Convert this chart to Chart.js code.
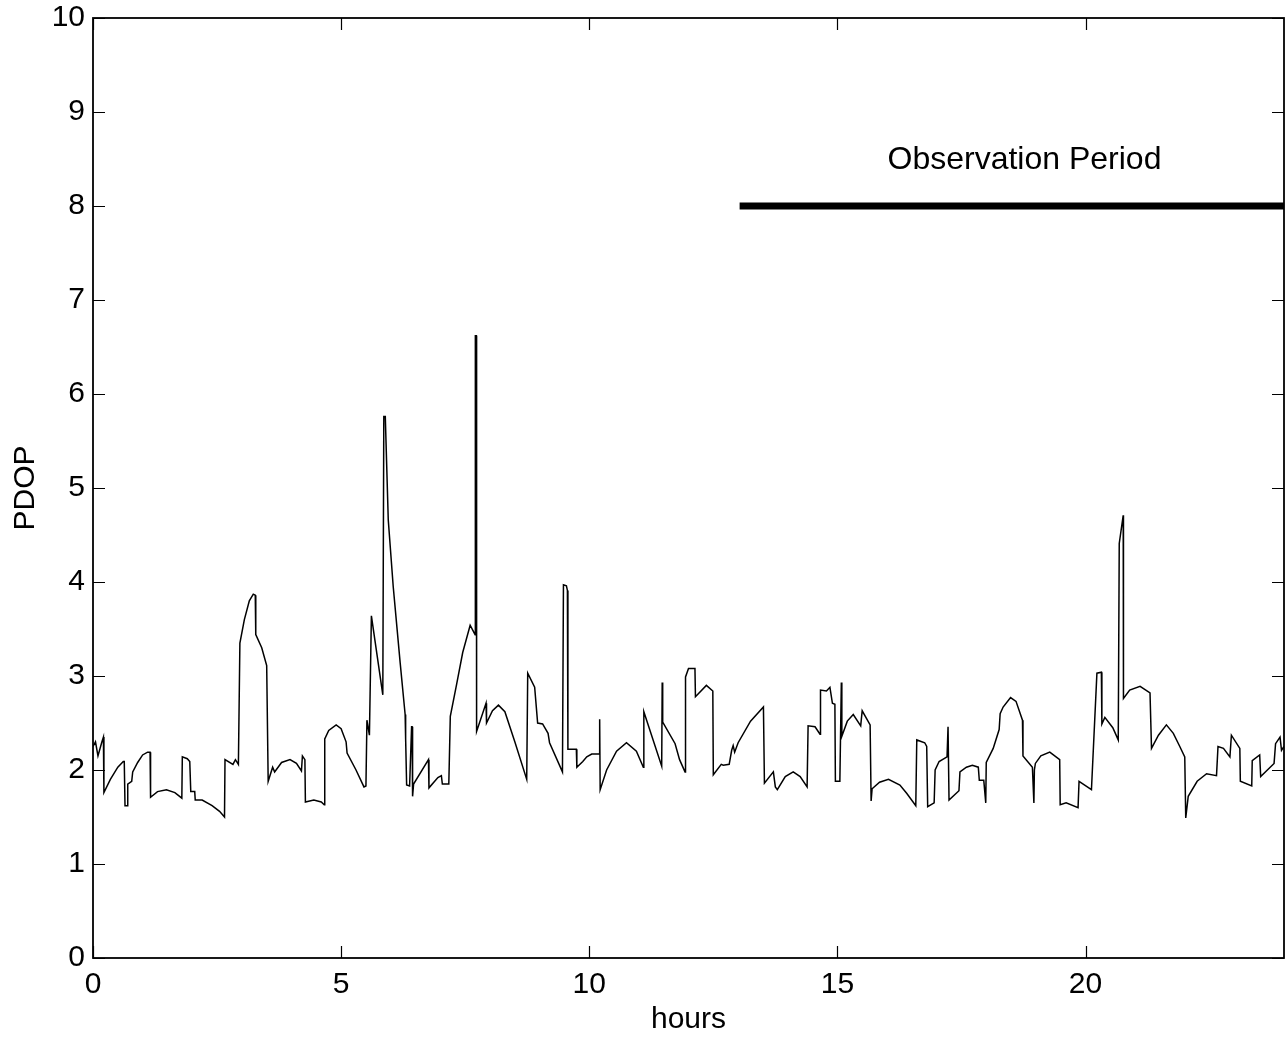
<!DOCTYPE html>
<html>
<head>
<meta charset="utf-8">
<script src="https://cdn.jsdelivr.net/npm/chart.js@4"></script>
<style>
  html, body { margin: 0; padding: 0; background: #fff; }
  #wrap { width: 1288px; height: 1040px; }
</style>
</head>
<body>
<div id="wrap"><canvas id="chart" width="1288" height="1040"></canvas></div>
<script>
// PDOP over one day (hours)
const hours = [
  0.00, 0.05, 0.10, 0.18, 0.21, 0.22, 0.35, 0.50, 0.61, 0.63, 0.645, 0.69, 0.70, 0.78, 0.80, 0.90, 1.00, 1.10, 1.15, 1.16,
  1.30, 1.48, 1.65, 1.79, 1.80, 1.90, 1.95, 1.97, 2.05, 2.06, 2.20, 2.40, 2.55, 2.65, 2.66, 2.82, 2.87, 2.93, 2.96, 3.05,
  3.15, 3.23, 3.27, 3.28, 3.40, 3.50, 3.53, 3.62, 3.66, 3.80, 3.97, 4.10, 4.20, 4.22, 4.27, 4.28, 4.45, 4.60, 4.66, 4.67,
  4.75, 4.90, 5.00, 5.10, 5.12, 5.30, 5.46, 5.50, 5.52, 5.57, 5.61, 5.84, 5.86, 5.89, 5.95, 6.05, 6.19, 6.29, 6.30, 6.32,
  6.38, 6.42, 6.43, 6.44, 6.46, 6.76, 6.77, 6.95, 7.02, 7.04, 7.17, 7.20, 7.33, 7.45, 7.60, 7.70, 7.705, 7.725, 7.73, 7.92,
  7.93, 8.05, 8.17, 8.30, 8.50, 8.74, 8.76, 8.90, 8.96, 9.06, 9.17, 9.20, 9.46, 9.48, 9.54, 9.56, 9.57, 9.74, 9.75, 9.87,
  9.95, 10.05, 10.20, 10.21, 10.22, 10.35, 10.55, 10.75, 10.95, 11.09, 11.10, 11.46, 11.47, 11.48, 11.73, 11.82, 11.93, 11.94, 12.00, 12.13, 12.14,
  12.36, 12.49, 12.50, 12.66, 12.70, 12.82, 12.87, 12.90, 12.93, 13.00, 13.25, 13.51, 13.53, 13.71, 13.75, 13.79, 13.95, 14.11, 14.25, 14.39,
  14.41, 14.55, 14.65, 14.66, 14.78, 14.85, 14.90, 14.95, 14.96, 15.05, 15.08, 15.09, 15.20, 15.32, 15.47, 15.50, 15.66, 15.68, 15.70, 15.85,
  16.03, 16.26, 16.40, 16.58, 16.60, 16.76, 16.80, 16.82, 16.95, 16.97, 17.05, 17.21, 17.22, 17.23, 17.25, 17.45, 17.47, 17.60, 17.72, 17.84,
  17.86, 17.95, 17.99, 18.00, 18.14, 18.26, 18.28, 18.34, 18.49, 18.60, 18.73, 18.74, 18.93, 18.96, 18.97, 18.99, 19.10, 19.28, 19.48, 19.49,
  19.61, 19.85, 19.87, 20.12, 20.23, 20.32, 20.33, 20.39, 20.55, 20.66, 20.68, 20.76, 20.765, 20.89, 21.10, 21.30, 21.33, 21.47, 21.63, 21.77,
  21.90, 22.00, 22.02, 22.07, 22.25, 22.44, 22.64, 22.67, 22.78, 22.91, 22.94, 23.11, 23.12, 23.35, 23.36, 23.51, 23.53, 23.80, 23.83, 23.92,
  23.95, 24.00
];
const pdop = [
  2.25, 2.30, 2.15, 2.30, 2.35, 1.76, 1.90, 2.03, 2.09, 2.09, 1.62, 1.62, 1.85, 1.88, 1.98, 2.08, 2.16, 2.19, 2.19, 1.71,
  1.77, 1.79, 1.76, 1.70, 2.14, 2.12, 2.09, 1.77, 1.77, 1.68, 1.68, 1.62, 1.56, 1.50, 2.11, 2.06, 2.11, 2.06, 3.35, 3.60,
  3.80, 3.87, 3.86, 3.44, 3.30, 3.11, 1.88, 2.03, 1.98, 2.08, 2.11, 2.07, 1.99, 2.15, 2.11, 1.66, 1.68, 1.66, 1.63, 2.33,
  2.42, 2.48, 2.44, 2.30, 2.18, 2.00, 1.82, 1.83, 2.53, 2.37, 3.64, 2.80, 5.76, 5.76, 4.66, 3.95, 3.14, 2.59, 2.33, 1.84,
  1.83, 2.46, 2.46, 1.72, 1.85, 2.11, 1.81, 1.92, 1.94, 1.85, 1.85, 2.57, 2.92, 3.25, 3.54, 3.44, 6.62, 6.62, 2.41, 2.71,
  2.50, 2.63, 2.69, 2.62, 2.30, 1.90, 3.03, 2.88, 2.50, 2.49, 2.39, 2.29, 1.98, 3.97, 3.96, 3.91, 2.22, 2.22, 2.03, 2.09,
  2.14, 2.17, 2.17, 2.54, 1.79, 2.00, 2.20, 2.29, 2.20, 2.03, 2.62, 2.04, 2.93, 2.51, 2.28, 2.11, 1.98, 2.99, 3.08, 3.08, 2.78,
  2.90, 2.84, 1.95, 2.06, 2.05, 2.06, 2.21, 2.26, 2.19, 2.29, 2.52, 2.67, 1.86, 1.98, 1.82, 1.79, 1.93, 1.98, 1.93, 1.82,
  2.47, 2.46, 2.38, 2.85, 2.84, 2.88, 2.71, 2.70, 1.88, 1.88, 2.93, 2.36, 2.52, 2.59, 2.47, 2.63, 2.48, 1.67, 1.80, 1.87,
  1.90, 1.84, 1.75, 1.62, 2.32, 2.29, 2.25, 1.61, 1.65, 2.00, 2.09, 2.14, 2.14, 2.46, 1.68, 1.78, 1.98, 2.03, 2.05, 2.03,
  1.89, 1.89, 1.65, 2.08, 2.23, 2.43, 2.60, 2.67, 2.77, 2.73, 2.53, 2.15, 2.03, 1.65, 2.00, 2.07, 2.15, 2.19, 2.11, 1.63,
  1.65, 1.60, 1.88, 1.79, 3.03, 3.04, 2.49, 2.56, 2.45, 2.32, 4.41, 4.71, 2.76, 2.85, 2.89, 2.82, 2.23, 2.37, 2.48, 2.39,
  2.25, 2.14, 1.49, 1.72, 1.88, 1.96, 1.94, 2.25, 2.23, 2.14, 2.37, 2.23, 1.88, 1.83, 2.10, 2.16, 1.93, 2.07, 2.28, 2.35,
  2.21, 2.25
];

// observation period bar
const obsStart = 13.03;
const obsEnd = 24;
const obsLevel = 8;
const obsLabel = "Observation Period";

const xTickValues = [0, 5, 10, 15, 20];
const yTickValues = [0, 1, 2, 3, 4, 5, 6, 7, 8, 9, 10];

const FONT = "'Liberation Sans', Arial, Helvetica, sans-serif";
const TICK_LEN = 12;

// box + inward ticks on all four sides, plus the bar label
const boxPlugin = {
  id: "box",
  afterDraw(chart) {
    const { ctx, chartArea: a, scales } = chart;
    ctx.save();
    ctx.strokeStyle = "#000";
    ctx.lineWidth = 1.8;
    ctx.strokeRect(a.left, a.top, a.right - a.left, a.bottom - a.top);
    ctx.lineWidth = 1.2;
    ctx.beginPath();
    xTickValues.forEach((v) => {
      const px = Math.round(scales.x.getPixelForValue(v)) + 0.5;
      ctx.moveTo(px, a.bottom); ctx.lineTo(px, a.bottom - TICK_LEN);
      ctx.moveTo(px, a.top); ctx.lineTo(px, a.top + TICK_LEN);
    });
    yTickValues.forEach((v) => {
      const py = Math.round(scales.y.getPixelForValue(v)) + 0.5;
      ctx.moveTo(a.left, py); ctx.lineTo(a.left + TICK_LEN, py);
      ctx.moveTo(a.right, py); ctx.lineTo(a.right - TICK_LEN, py);
    });
    ctx.stroke();

    ctx.fillStyle = "#000";
    ctx.font = "32px " + FONT;
    ctx.textAlign = "center";
    ctx.textBaseline = "middle";
    ctx.fillText(obsLabel, scales.x.getPixelForValue(18.77), scales.y.getPixelForValue(8.49));
    ctx.restore();
  },
};

const ctx = document.getElementById("chart").getContext("2d");
const chart = new Chart(ctx, {
  type: "line",
  data: {
    datasets: [
      {
        data: hours.map((h, i) => ({ x: h, y: pdop[i] })),
        borderColor: "#000",
        borderWidth: 1.5,
        pointRadius: 0,
        tension: 0,
      },
      {
        data: [{ x: obsStart, y: obsLevel }, { x: obsEnd, y: obsLevel }],
        borderColor: "#000",
        borderWidth: 7,
        borderCapStyle: "butt",
        pointRadius: 0,
        tension: 0,
      },
    ],
  },
  options: {
    responsive: false,
    animation: false,
    events: [],
    layout: { padding: { top: 18, right: 4, left: 0, bottom: 0 } },
    plugins: { legend: { display: false }, tooltip: { enabled: false } },
    scales: {
      x: {
        type: "linear",
        min: 0,
        max: 24,
        afterBuildTicks: (s) => { s.ticks = xTickValues.map((v) => ({ value: v })); },
        afterFit: (s) => { s.height = 82; s.paddingLeft = 0; s.paddingRight = 0; },
        grid: { display: false, drawTicks: false },
        border: { display: false },
        ticks: { color: "#000", font: { family: FONT, size: 30 }, padding: 9, maxRotation: 0 },
        title: {
          display: true,
          text: "hours",
          color: "#000",
          font: { family: FONT, size: 30 },
          padding: { top: 0, bottom: 2 },
        },
      },
      y: {
        min: 0,
        max: 10,
        afterBuildTicks: (s) => { s.ticks = yTickValues.map((v) => ({ value: v })); },
        afterFit: (s) => { s.width = 93; s.paddingTop = 0; s.paddingBottom = 0; },
        grid: { display: false, drawTicks: false },
        border: { display: false },
        ticks: { color: "#000", font: { family: FONT, size: 30 }, padding: 8 },
        title: {
          display: true,
          text: "PDOP",
          color: "#000",
          font: { family: FONT, size: 30 },
          padding: { top: 8, bottom: 0 },
        },
      },
    },
  },
  plugins: [boxPlugin],
});
</script>
</body>
</html>
